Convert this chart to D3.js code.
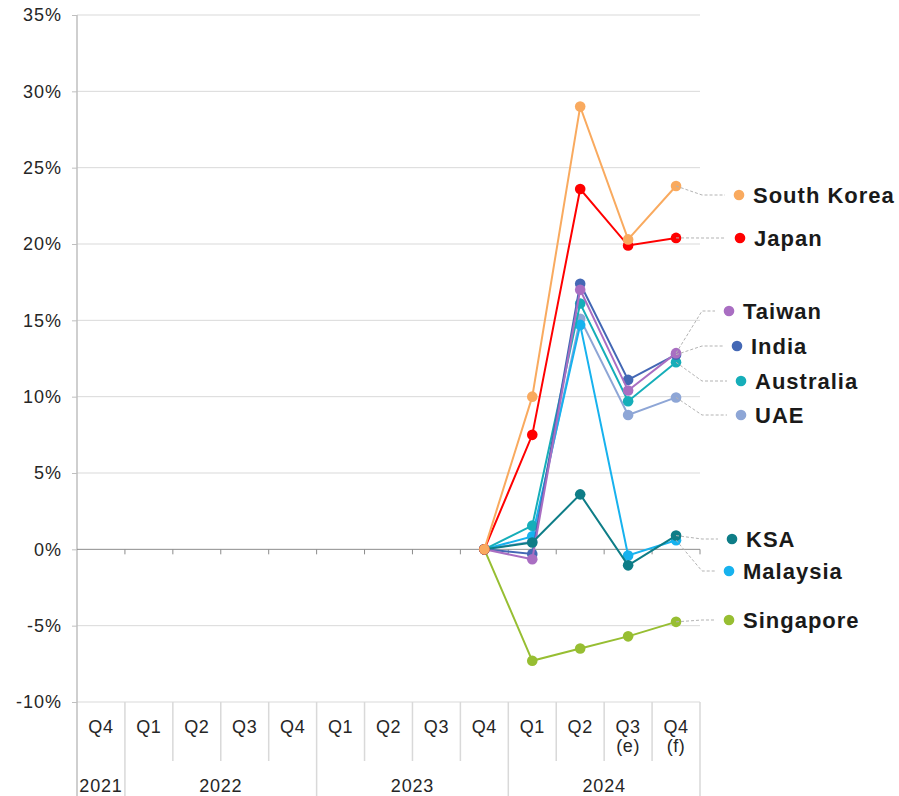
<!DOCTYPE html>
<html><head><meta charset="utf-8">
<script src="https://cdn.jsdelivr.net/npm/d3@7"></script>
<style>
html,body{margin:0;padding:0;background:#fff;}
svg{display:block;font-family:"Liberation Sans",Arial,sans-serif;}
</style></head>
<body>
<svg id="chart" width="899" height="796"></svg>
<script>
// ---- data ----
const quarters = ["Q4","Q1","Q2","Q3","Q4","Q1","Q2","Q3","Q4","Q1","Q2","Q3","Q4"];
const quarterNotes = ["","","","","","","","","","","","(e)","(f)"];
const yearLabels = ["2021","2022","2023","2024"];
const yearQuarterCounts = [1,4,4,4];
const yTicks = [-10,-5,0,5,10,15,20,25,30,35];
const dataStartIndex = 8; // values below start at Q4 2023

const southKorea = [0, 10.0, 29.0, 20.3, 23.8];
const japan      = [0, 7.5, 23.6, 19.9, 20.4];
const taiwan     = [0, -0.65, 17.0, 10.4, 12.85];
const india      = [0, -0.3, 17.4, 11.1, 12.75];
const australia  = [0, 1.55, 16.1, 9.7, 12.25];
const uae        = [0, 0.5, 15.1, 8.8, 9.95];
const ksa        = [0, 0.45, 3.6, -1.05, 0.9];
const malaysia   = [0, 0.85, 14.7, -0.4, 0.6];
const singapore  = [0, -7.3, -6.5, -5.7, -4.75];

const seriesNames = ["South Korea","Japan","Taiwan","India","Australia","UAE","KSA","Malaysia","Singapore"];
const seriesValues = [southKorea, japan, taiwan, india, australia, uae, ksa, malaysia, singapore];
const seriesColors = ["#f9aa5f","#ff0000","#a96ec2","#4468b5","#16aeb9","#8ea6d6","#0e7d87","#17b2ee","#97be32"];
// layout for right-hand labels (pixel positions)
const labelLayout = {
  "South Korea": {dx:739, y:195},
  "Japan":       {dx:740, y:238},
  "Taiwan":      {dx:729, y:311},
  "India":       {dx:737, y:346},
  "Australia":   {dx:741, y:381},
  "UAE":         {dx:741, y:415},
  "KSA":         {dx:732, y:539},
  "Malaysia":    {dx:729, y:571},
  "Singapore":   {dx:729, y:620}
};
const drawOrder = ["Singapore","UAE","Malaysia","Australia","India","Taiwan","KSA","Japan","South Korea"];

(function(){
const svg = d3.select("#chart");
const mLeft = 77, mRight = 700, mTop = 15, plotBottom = 702, mBottom = 796;
const x = d3.scaleBand().domain(d3.range(quarters.length)).range([mLeft, mRight]).paddingInner(0).paddingOuter(0);
const y = d3.scaleLinear().domain([-10, 35]).range([plotBottom, mTop]);
const bw = x.bandwidth();
const cx = i => x(i) + bw/2;
const txtCol = "#262626";

// gridlines
svg.append("g").selectAll("line").data(yTicks.filter(t => t !== 0)).join("line")
  .attr("x1", mLeft).attr("x2", mRight)
  .attr("y1", d => y(d)).attr("y2", d => y(d))
  .attr("stroke", "#d9d9d9").attr("stroke-width", 1);

// y axis
const yAxis = d3.axisLeft(y).tickValues(yTicks).tickFormat(d => d + "%").tickSize(5).tickPadding(10);
const gy = svg.append("g").attr("transform", `translate(${mLeft},0)`).call(yAxis);
gy.select(".domain").remove();
gy.selectAll(".tick line").attr("stroke", "#bfbfbf");
gy.selectAll(".tick text").attr("font-size", 18).attr("fill", txtCol)
  .attr("letter-spacing", "1px")
  .attr("font-family", "Liberation Sans, Arial, sans-serif");
svg.append("line").attr("x1", mLeft).attr("x2", mLeft).attr("y1", mTop).attr("y2", mBottom)
  .attr("stroke", "#bfbfbf").attr("stroke-width", 1.5);

// zero line with category ticks
svg.append("line").attr("x1", mLeft).attr("x2", mRight).attr("y1", y(0)).attr("y2", y(0))
  .attr("stroke", "#8c8c8c").attr("stroke-width", 1);
svg.append("g").selectAll("line").data(d3.range(1, quarters.length + 1)).join("line")
  .attr("x1", i => mLeft + i*bw).attr("x2", i => mLeft + i*bw)
  .attr("y1", y(0)).attr("y2", y(0) + 5)
  .attr("stroke", "#8c8c8c");

// category axis
const catG = svg.append("g");
const yearBoundaries = [];
let acc = 0;
yearQuarterCounts.forEach(c => { acc += c; yearBoundaries.push(acc); });
d3.range(1, quarters.length + 1).forEach(i => {
  const isYear = yearBoundaries.includes(i);
  catG.append("line").attr("x1", mLeft + i*bw).attr("x2", mLeft + i*bw)
    .attr("y1", plotBottom).attr("y2", isYear ? mBottom : 761)
    .attr("stroke", "#d9d9d9").attr("stroke-width", 1.5);
});
catG.selectAll("text.q").data(quarters).join("text").attr("class","q")
  .attr("x", (d,i) => cx(i)).attr("y", 733)
  .attr("text-anchor","middle").attr("font-size",18).attr("letter-spacing","0.6px")
  .attr("fill",txtCol).text(d => d);
catG.selectAll("text.n").data(quarterNotes).join("text").attr("class","n")
  .attr("x", (d,i) => cx(i)).attr("y", 752)
  .attr("text-anchor","middle").attr("font-size",18).attr("letter-spacing","0.6px")
  .attr("fill",txtCol).text(d => d);
let start = 0;
yearLabels.forEach((lab, k) => {
  const end = start + yearQuarterCounts[k];
  const mid = (x(start) + x(end - 1) + bw) / 2;
  catG.append("text").attr("x", mid).attr("y", 792).attr("text-anchor","middle")
    .attr("font-size",18).attr("letter-spacing","0.8px").attr("fill",txtCol).text(lab);
  start = end;
});

// series
const line = d3.line().x(d => cx(d.i)).y(d => y(d.v));
const order = drawOrder.map(n => seriesNames.indexOf(n));
const seriesG = svg.append("g");
order.forEach(k => {
  const pts = seriesValues[k].map((v, j) => ({i: dataStartIndex + j, v}));
  const g = seriesG.append("g");
  g.append("path").datum(pts).attr("d", line).attr("fill","none")
    .attr("stroke", seriesColors[k]).attr("stroke-width", 2);
  g.selectAll("circle").data(pts).join("circle")
    .attr("cx", d => cx(d.i)).attr("cy", d => y(d.v)).attr("r", 5.3)
    .attr("fill", seriesColors[k]);
});

// leader lines + labels
const labG = svg.append("g");
seriesNames.forEach((name, k) => {
  const vals = seriesValues[k];
  const lastI = dataStartIndex + vals.length - 1;
  const px = cx(lastI), py = y(vals[vals.length - 1]);
  const L = labelLayout[name];
  labG.append("path")
    .attr("d", `M${px},${py} L${mRight + 2},${L.y} L${L.dx - 14},${L.y}`)
    .attr("fill","none").attr("stroke","#b3b3b3").attr("stroke-width",1)
    .attr("stroke-dasharray","3,2");
  labG.append("circle").attr("cx", L.dx).attr("cy", L.y).attr("r", 5.3).attr("fill", seriesColors[k]);
  labG.append("text").attr("x", L.dx + 14).attr("y", L.y).attr("dy","0.36em")
    .attr("font-size", 22).attr("letter-spacing","1px")
    .attr("font-weight","bold").attr("fill","#1a1a1a").text(name);
});
})();
</script>
</body></html>
